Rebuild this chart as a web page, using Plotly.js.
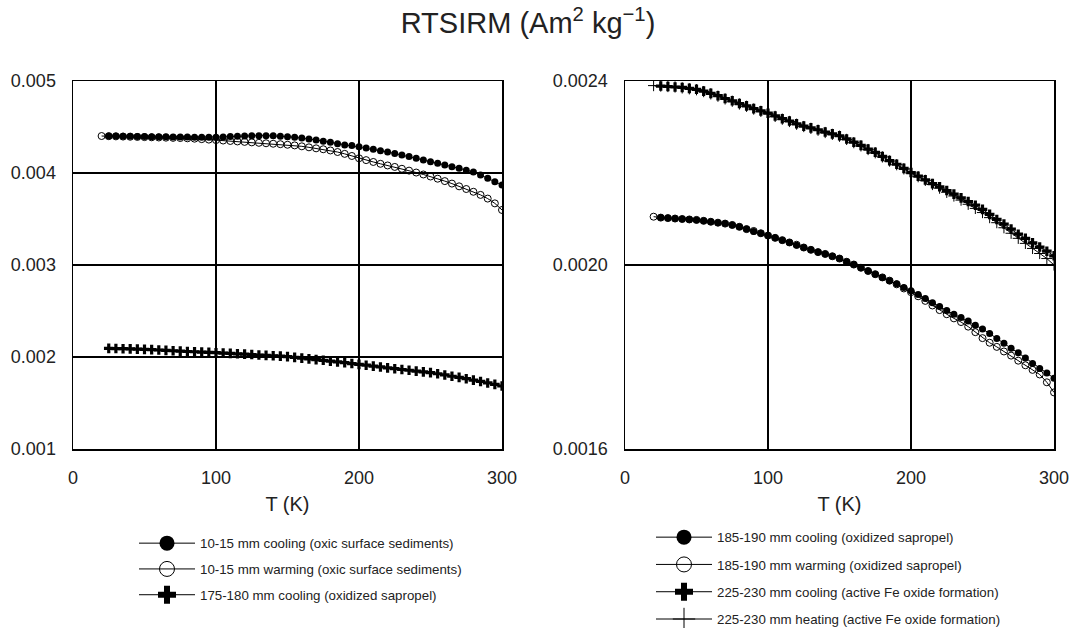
<!DOCTYPE html>
<html>
<head>
<meta charset="utf-8">
<script src="https://cdn.plot.ly/plotly-3.0.1.min.js"></script>
<style>html,body{margin:0;padding:0;background:#fff;}#chart{width:1071px;height:628px;}</style>
</head>
<body>
<div id="chart"></div>
<script>
// Temperatures (K)
const T20 = [20,25,30,35,40,45,50,55,60,65,70,75,80,85,90,95,100,105,110,115,120,125,130,135,140,145,150,155,160,165,170,175,180,185,190,195,200,205,210,215,220,225,230,235,240,245,250,255,260,265,270,275,280,285,290,295,300];
const T25 = [25,30,35,40,45,50,55,60,65,70,75,80,85,90,95,100,105,110,115,120,125,130,135,140,145,150,155,160,165,170,175,180,185,190,195,200,205,210,215,220,225,230,235,240,245,250,255,260,265,270,275,280,285,290,295,300];

// Left panel
const oxicCooling = [0.004402,0.004401,0.004400,0.004399,0.004398,0.004396,0.004395,0.004394,0.004393,0.004392,0.004391,0.004390,0.004389,0.004388,0.004388,0.004389,0.004392,0.004396,0.004400,0.004403,0.004405,0.004406,0.004406,0.004404,0.004400,0.004395,0.004388,0.004380,0.004370,0.004359,0.004346,0.004333,0.004319,0.004305,0.004298,0.004286,0.004272,0.004258,0.004243,0.004228,0.004212,0.004195,0.004178,0.004160,0.004142,0.004123,0.004105,0.004087,0.004069,0.004051,0.004030,0.004010,0.003978,0.003942,0.003905,0.003870];
const oxicWarming = [0.004402,0.004400,0.004398,0.004396,0.004394,0.004392,0.004390,0.004388,0.004386,0.004384,0.004382,0.004380,0.004377,0.004373,0.004368,0.004363,0.004358,0.004353,0.004348,0.004343,0.004338,0.004333,0.004328,0.004323,0.004318,0.004313,0.004307,0.004300,0.004290,0.004279,0.004268,0.004258,0.004245,0.004228,0.004208,0.004185,0.004160,0.004140,0.004120,0.004100,0.004082,0.004066,0.004046,0.004026,0.004005,0.003984,0.003962,0.003938,0.003912,0.003885,0.003855,0.003826,0.003796,0.003762,0.003722,0.003670,0.003598];
const sap175Cooling = [0.002094,0.002092,0.002090,0.002088,0.002086,0.002083,0.002080,0.002076,0.002072,0.002068,0.002064,0.002060,0.002057,0.002053,0.002050,0.002047,0.002043,0.002039,0.002035,0.002031,0.002027,0.002022,0.002018,0.002013,0.002009,0.002004,0.001996,0.001988,0.001980,0.001972,0.001964,0.001955,0.001946,0.001938,0.001929,0.001920,0.001911,0.001901,0.001892,0.001882,0.001873,0.001864,0.001856,0.001847,0.001838,0.001830,0.001818,0.001805,0.001791,0.001778,0.001764,0.001749,0.001734,0.001718,0.001702,0.001685];

// Right panel
const sap185Cooling = [0.002103,0.002102,0.002101,0.002100,0.002099,0.002098,0.002096,0.002094,0.002092,0.002090,0.002087,0.002083,0.002078,0.002073,0.002069,0.002064,0.002059,0.002054,0.002049,0.002043,0.002038,0.002033,0.002028,0.002024,0.002019,0.002014,0.002007,0.002001,0.001994,0.001987,0.001980,0.001973,0.001966,0.001959,0.001951,0.001944,0.001936,0.001927,0.001918,0.001910,0.001901,0.001893,0.001886,0.001878,0.001869,0.001861,0.001851,0.001840,0.001830,0.001819,0.001809,0.001798,0.001786,0.001775,0.001765,0.001754];
const sap185Warming = [0.002105,0.002103,0.002102,0.002101,0.002100,0.002099,0.002098,0.002096,0.002094,0.002092,0.002090,0.002087,0.002083,0.002078,0.002074,0.002069,0.002064,0.002059,0.002054,0.002049,0.002044,0.002038,0.002033,0.002028,0.002024,0.002019,0.002014,0.002007,0.002001,0.001994,0.001987,0.001980,0.001973,0.001966,0.001958,0.001949,0.001941,0.001932,0.001922,0.001912,0.001902,0.001893,0.001884,0.001876,0.001866,0.001854,0.001841,0.001831,0.001822,0.001812,0.001803,0.001792,0.001782,0.001772,0.001762,0.001745,0.001723];
const fe225Cooling = [0.002389,0.002388,0.002387,0.002386,0.002384,0.002382,0.002378,0.002373,0.002368,0.002362,0.002357,0.002351,0.002346,0.002340,0.002335,0.002330,0.002324,0.002318,0.002313,0.002307,0.002302,0.002298,0.002294,0.002289,0.002285,0.002281,0.002274,0.002267,0.002260,0.002252,0.002245,0.002236,0.002227,0.002219,0.002210,0.002201,0.002193,0.002185,0.002177,0.002170,0.002162,0.002154,0.002146,0.002138,0.002130,0.002121,0.002110,0.002099,0.002089,0.002078,0.002067,0.002058,0.002048,0.002039,0.002030,0.002020];
const fe225Heating = [0.002390,0.002389,0.002388,0.002387,0.002385,0.002383,0.002381,0.002377,0.002372,0.002367,0.002361,0.002356,0.002350,0.002345,0.002339,0.002334,0.002329,0.002323,0.002317,0.002312,0.002306,0.002301,0.002297,0.002293,0.002288,0.002284,0.002280,0.002273,0.002266,0.002259,0.002251,0.002244,0.002235,0.002226,0.002218,0.002209,0.002200,0.002192,0.002184,0.002175,0.002167,0.002158,0.002150,0.002141,0.002132,0.002123,0.002114,0.002103,0.002092,0.002081,0.002069,0.002058,0.002047,0.002036,0.002025,0.002014,0.002000];

const leftNames = ['10-15 mm cooling (oxic surface sediments)','10-15 mm warming (oxic surface sediments)','175-180 mm cooling (oxidized sapropel)'];
const rightNames = ['185-190 mm cooling (oxidized sapropel)','185-190 mm warming (oxidized sapropel)','225-230 mm cooling (active Fe oxide formation)','225-230 mm heating (active Fe oxide formation)'];
const xTicks = [0,100,200,300];
const titleText = 'RTSIRM (Am<sup>2</sup> kg<sup>\u22121</sup>)';
const xTitle = 'T (K)';

const FONT = 'Liberation Sans, Arial, Helvetica, sans-serif';
const line = {color:'#000', width:1};

// marker styles (plot size / legend size)
const mFilled = s => ({symbol:'circle', size:s, color:'#000'});
const mOpen = s => ({symbol:'circle-open', size:s, color:'#000', line:{width:1, color:'#000'}});
const mCross = s => ({symbol:'cross', size:s, color:'#000'});
const mThin = s => ({symbol:'cross-thin-open', size:s, color:'#000', line:{width:1, color:'#000'}});

function dataTrace(x, y, ax, m) {
  return {x:x, y:y, xaxis:'x'+ax, yaxis:'y'+ax, mode:'lines+markers', line:line, marker:m, showlegend:false, hoverinfo:'skip'};
}
// legend-only entries (no data, only the key)
function keyTrace(name, ax, leg, grp, rank, m) {
  return {x:[null], y:[null], xaxis:'x'+ax, yaxis:'y'+ax, name:name, legend:leg, legendgroup:grp, legendrank:rank,
          mode:'lines+markers', line:line, marker:m, showlegend:true};
}

const traces = [
  dataTrace(T20, oxicWarming, '', mOpen(7)),
  dataTrace(T25, oxicCooling, '', mFilled(7)),
  dataTrace(T25, sap175Cooling, '', mCross(8)),
  dataTrace(T20, sap185Warming, '2', mOpen(7)),
  dataTrace(T25, sap185Cooling, '2', mFilled(7)),
  dataTrace(T20, fe225Heating, '2', mThin(8)),
  dataTrace(T25, fe225Cooling, '2', mCross(8)),
  keyTrace(leftNames[0], '', 'legend', 'a1', 1, mFilled(15)),
  keyTrace(leftNames[1], '', 'legend', 'a2', 2, mOpen(15)),
  keyTrace(leftNames[2], '', 'legend', 'a3', 3, mCross(15)),
  keyTrace(rightNames[0], '2', 'legend2', 'b1', 1, mFilled(15)),
  keyTrace(rightNames[1], '2', 'legend2', 'b2', 2, mOpen(15)),
  keyTrace(rightNames[2], '2', 'legend2', 'b3', 3, mCross(15)),
  keyTrace(rightNames[3], '2', 'legend2', 'b4', 4, mThin(16))
];

const axBase = {
  showline:true, mirror:true, linecolor:'#000', linewidth:1.5,
  showgrid:true, gridcolor:'#000', gridwidth:1.5, zeroline:false,
  ticks:'', tickfont:{family:FONT, size:18, color:'#222'}, ticklabelstandoff:12
};
const yTop = 1 - 81/628, yBot = 1 - 449/628;

const legBase = {
  orientation:'v', xanchor:'left', yanchor:'top', bgcolor:'rgba(0,0,0,0)', borderwidth:0,
  font:{family:FONT, size:13.3, color:'#222'}, itemwidth:56, traceorder:'grouped'
};

const layout = {
  width:1071, height:628, margin:{l:0,r:0,t:0,b:0, autoexpand:false}, paper_bgcolor:'#fff', plot_bgcolor:'#fff',
  font:{family:FONT, color:'#222'},
  title:{text:titleText, font:{family:FONT, size:29, color:'#222'}, x:0.493, xanchor:'center', y:1-23/628, yanchor:'middle', yref:'container'},
  xaxis:Object.assign({}, axBase, {domain:[73/1071, 502/1071], range:[0,300], tickvals:xTicks, anchor:'y',
    title:{text:xTitle, font:{family:FONT, size:20, color:'#222'}, standoff:10}}),
  yaxis:Object.assign({}, axBase, {domain:[yBot, yTop], range:[0.001,0.005], dtick:0.001, tick0:0.001, tickformat:'.3f', anchor:'x'}),
  xaxis2:Object.assign({}, axBase, {domain:[625/1071, 1054/1071], range:[0,300], tickvals:xTicks, anchor:'y2',
    title:{text:xTitle, font:{family:FONT, size:20, color:'#222'}, standoff:10}}),
  yaxis2:Object.assign({}, axBase, {domain:[yBot, yTop], range:[0.0016,0.0024], dtick:0.0004, tick0:0.0016, tickformat:'.4f', anchor:'x2'}),
  legend:Object.assign({}, legBase, {x:134/1071, y:1-528/628, tracegroupgap:5.5}),
  legend2:Object.assign({}, legBase, {x:651/1071, y:1-522/628, tracegroupgap:7}),
  showlegend:true
};

Plotly.newPlot('chart', traces, layout, {staticPlot:true, displayModeBar:false});
</script>
</body>
</html>
